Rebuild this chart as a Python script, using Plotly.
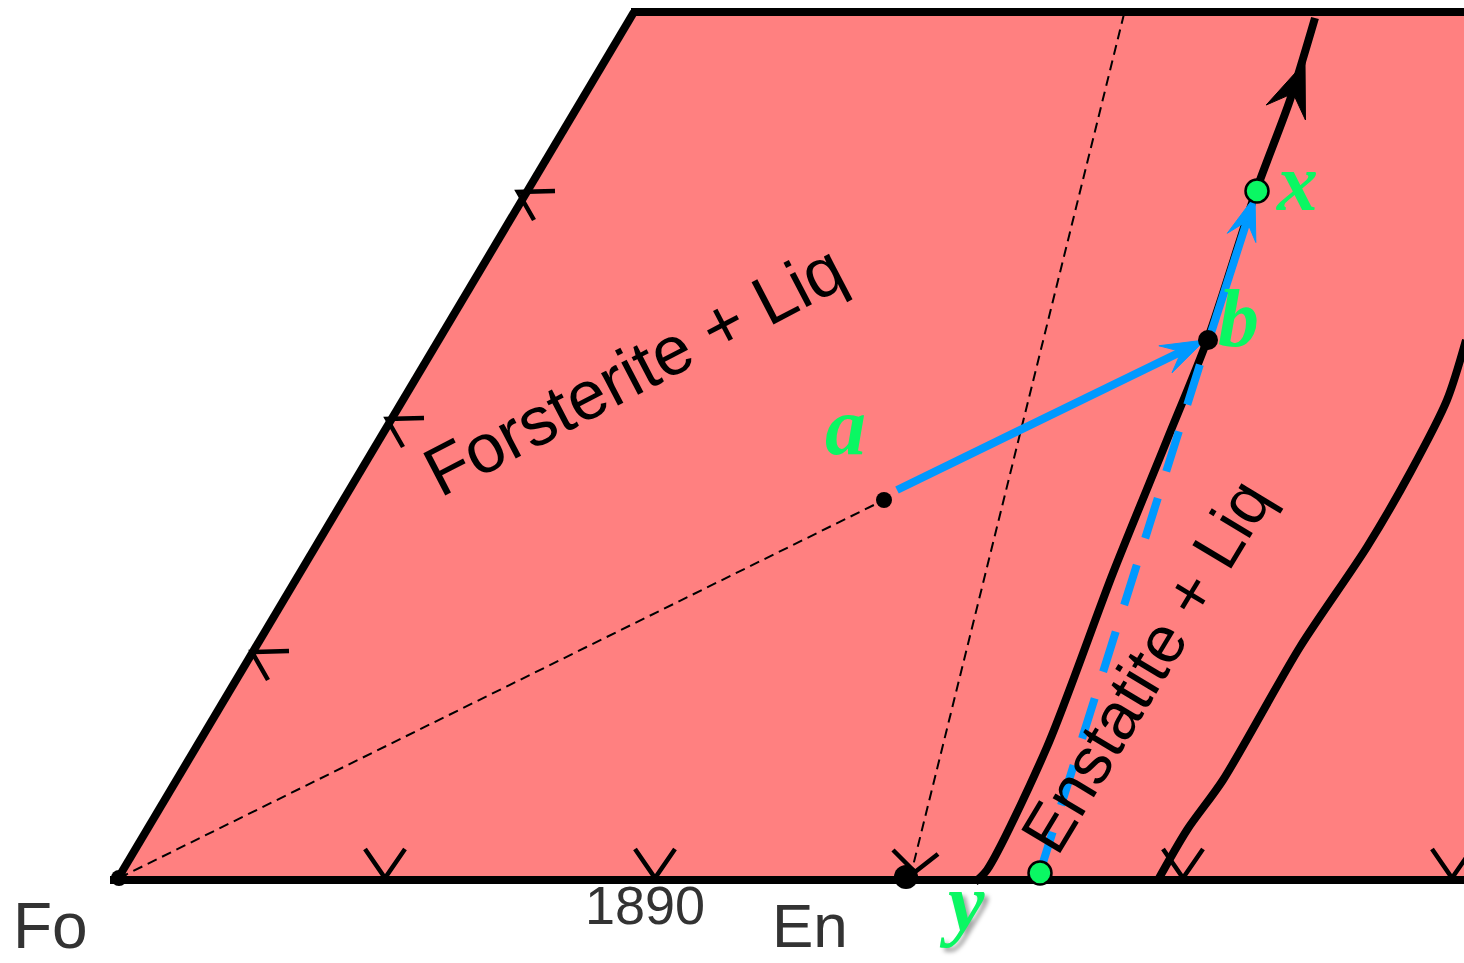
import numpy as np
import plotly.graph_objects as go

W, H = 1464, 963

# ---- diagram geometry (sketch pixel space, y grows downward) ----
field_x = [117, 634, 1470, 1470, 117]
field_y = [880, 12, 12, 880, 880]

left_edge_x, left_edge_y = [117, 634], [880, 12]
top_edge_x, top_edge_y = [631, 1470], [12, 12]
base_x, base_y = [110, 1470], [880, 880]

# cotectic boundaries
cotectic1_x = [975, 987, 1047, 1113, 1167, 1208, 1256, 1290, 1315]
cotectic1_y = [882, 870, 747, 573, 440, 338, 191, 100, 18]
cotectic2_x = [1158, 1187, 1223, 1300, 1367, 1410, 1447, 1466]
cotectic2_y = [880, 830, 780, 647, 547, 473, 400, 340]

# tie lines
tie_a_x, tie_a_y = [119, 884], [878, 500]
tie_en_x, tie_en_y = [1124, 913], [14, 866]

# crystallisation path
path_ab_x, path_ab_y = [897, 1205], [490, 340]
path_bx_x, path_bx_y = [1211, 1255], [333, 196]
path_yb_x, path_yb_y = [1040, 1207], [872, 342]

# boundary arrows (vertex positions)
base_tick_x = [385, 655, 1183, 1452]
base_tick_y = [878, 878, 878, 878]
en_tick_x, en_tick_y = [915], [872]
left_tick_x = [518, 387, 252]
left_tick_y = [192, 419, 652]

# points
black_pts_x = [119, 884, 1208, 906]
black_pts_y = [878, 500, 340, 877]
black_pts_s = [16, 16, 20, 24]
green_pts_x = [1257, 1040]
green_pts_y = [191, 873]

PINK = "#FF8080"
BLUE = "#0099FF"
GREEN = "#0AF763"
GREY = "#333333"


def head(tail, tip, length, half, notch=0.6):
    tail = np.array(tail, float)
    tip = np.array(tip, float)
    d = tip - tail
    d /= np.hypot(*d)
    n = np.array([-d[1], d[0]])
    base = tip - d * length
    inner = tip - d * length * notch
    pts = [tip, base + n * half, inner, base - n * half, tip]
    return [p[0] for p in pts], [p[1] for p in pts], inner


def seg(xs, ys):
    return dict(x=xs, y=ys, mode="lines", hoverinfo="skip")


fig = go.Figure()

fig.add_trace(go.Scatter(x=field_x, y=field_y, fill="toself", fillcolor=PINK,
                         mode="lines", line=dict(width=0, color=PINK), hoverinfo="skip"))

# dashed tie lines
fig.add_trace(go.Scatter(**seg(tie_a_x, tie_a_y), line=dict(color="black", width=2, dash="10px,6px")))
fig.add_trace(go.Scatter(**seg(tie_en_x, tie_en_y), line=dict(color="black", width=2, dash="10px,6px")))

# boundary arrows on the base and the left edge
tx, ty = [], []
for vx, vy in zip(base_tick_x, base_tick_y):
    tx += [vx - 20, vx, vx + 20, None]
    ty += [vy - 29, vy, vy - 29, None]
for vx, vy in zip(en_tick_x, en_tick_y):
    tx += [vx - 22, vx, vx + 23, None]
    ty += [vy - 22, vy, vy - 18, None]
for vx, vy in zip(left_tick_x, left_tick_y):
    tx += [vx + 37, vx, vx + 16, None]
    ty += [vy - 1, vy, vy + 28, None]
fig.add_trace(go.Scatter(**seg(tx, ty), line=dict(color="black", width=4.5)))

# outline
for xs, ys in [(left_edge_x, left_edge_y), (top_edge_x, top_edge_y), (base_x, base_y)]:
    fig.add_trace(go.Scatter(**seg(xs, ys), line=dict(color="black", width=8)))

# cotectics
fig.add_trace(go.Scatter(**seg(cotectic1_x, cotectic1_y),
                         line=dict(color="black", width=8, shape="spline", smoothing=0.8)))
fig.add_trace(go.Scatter(**seg(cotectic2_x, cotectic2_y),
                         line=dict(color="black", width=8, shape="spline", smoothing=0.8)))
hx, hy, _ = head((cotectic1_x[6], cotectic1_y[6]), (1305, 62), 54, 21, notch=0.62)
fig.add_trace(go.Scatter(x=hx, y=hy, fill="toself", fillcolor="black", mode="lines",
                         line=dict(color="black", width=1), hoverinfo="skip"))

# crystallisation path
fig.add_trace(go.Scatter(**seg(path_yb_x, path_yb_y), line=dict(color=BLUE, width=8, dash="42px,28px")))
for xs, ys in [(path_ab_x, path_ab_y), (path_bx_x, path_bx_y)]:
    hx, hy, inner = head((xs[0], ys[0]), (xs[1], ys[1]), 44, 15, notch=0.6)
    fig.add_trace(go.Scatter(**seg([xs[0], inner[0]], [ys[0], inner[1]]), line=dict(color=BLUE, width=8)))
    fig.add_trace(go.Scatter(x=hx, y=hy, fill="toself", fillcolor=BLUE, mode="lines",
                             line=dict(color=BLUE, width=1), hoverinfo="skip"))

# points
fig.add_trace(go.Scatter(x=black_pts_x, y=black_pts_y, mode="markers", hoverinfo="skip",
                         marker=dict(color="black", size=black_pts_s, opacity=1,
                                     line=dict(width=0, color="black"))))
fig.add_trace(go.Scatter(x=green_pts_x, y=green_pts_y, mode="markers", hoverinfo="skip",
                         marker=dict(color=GREEN, size=23, opacity=1,
                                     line=dict(color="black", width=2.5))))

ann = []
sans = "Liberation Sans, Arial, sans-serif"
serif = "Liberation Serif, Times New Roman, serif"
ann.append(dict(x=634, y=370, text="Forsterite + Liq", textangle=-27.5,
                font=dict(family=sans, size=69, color="black")))
ann.append(dict(x=1146, y=666, text="Enstatite + Liq", textangle=-59,
                font=dict(family=sans, size=66, color="black")))
ann.append(dict(x=50, y=926, text="Fo", font=dict(family=sans, size=64, color=GREY)))
ann.append(dict(x=645, y=905, text="1890", font=dict(family=sans, size=54, color=GREY)))
ann.append(dict(x=810, y=925, text="En", font=dict(family=sans, size=62, color=GREY)))
for t, x, y in [("a", 845, 426), ("b", 1238, 318), ("x", 1297, 182)]:
    ann.append(dict(x=x, y=y, text=t,
                    font=dict(family=serif, size=82, color=GREEN, weight="bold", style="italic")))
ann.append(dict(x=962, y=902, text="y",
                font=dict(family=serif, size=82, color=GREEN, weight="bold", style="italic",
                          shadow="4px 4px 4px rgba(0,0,0,0.35)")))
for a in ann:
    a.update(xref="x", yref="y", showarrow=False, xanchor="center", yanchor="middle")

fig.update_layout(
    template="none",
    width=W, height=H, margin=dict(l=0, r=0, t=0, b=0),
    paper_bgcolor="white", plot_bgcolor="white", showlegend=False,
    xaxis=dict(range=[0, W], visible=False, fixedrange=True),
    yaxis=dict(range=[H, 0], visible=False, fixedrange=True),
    annotations=ann,
)

fig.write_html("out.html")
